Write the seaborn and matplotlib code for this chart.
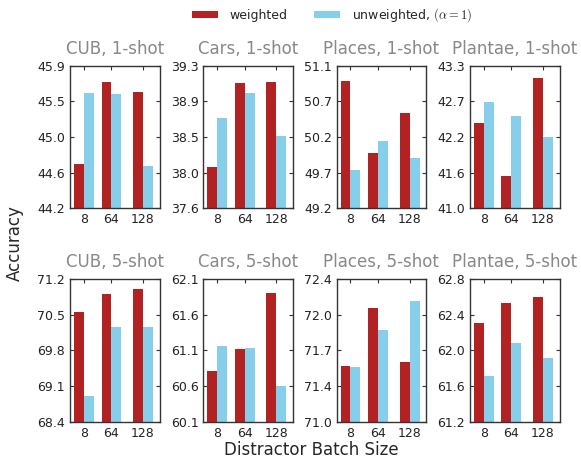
import numpy as np
import pandas as pd
import seaborn as sns
from matplotlib import pyplot
from matplotlib.patches import Patch

sns.set_style("ticks")
pyplot.rcParams['font.family'] = ['DejaVu Sans']
pyplot.rcParams['mathtext.fontset'] = 'cm'
pyplot.rcParams.update({
    'xtick.direction': 'in', 'ytick.direction': 'in',
    'xtick.top': True, 'ytick.right': True,
    'xtick.major.size': 3, 'ytick.major.size': 3,
    'axes.edgecolor': '#333333', 'axes.linewidth': 1.0,
    'xtick.color': '#333333', 'ytick.color': '#333333',
    'xtick.labelcolor': '#222222', 'ytick.labelcolor': '#222222',
})

datasets = ['CUB', 'Cars', 'Places', 'Plantae']
shots = [1, 5]
batch_sizes = ['8', '64', '128']
methods = ['weighted', 'unweighted']

# accuracy, order: CUB, Cars, Places, Plantae
weighted_1shot = [[44.73, 45.70, 45.59], [38.09, 39.09, 39.10],
                  [50.90, 49.93, 50.47], [42.37, 41.52, 43.10]]
unweighted_1shot = [[45.57, 45.56, 44.70], [38.68, 38.97, 38.46],
                    [49.71, 50.10, 49.87], [42.71, 42.49, 42.15]]
weighted_5shot = [[70.56, 70.91, 71.00], [60.81, 61.12, 61.91],
                  [71.55, 72.12, 71.59], [62.31, 62.53, 62.60]]
unweighted_5shot = [[68.91, 70.27, 70.27], [61.16, 61.14, 60.60],
                    [71.54, 71.90, 72.19], [61.71, 62.08, 61.92]]

# y range and tick labels of each panel
y_range_1shot = [(44.2, 45.9), (37.6, 39.3), (49.2, 51.1), (41.0, 43.3)]
y_range_5shot = [(68.4, 71.2), (60.1, 62.1), (71.0, 72.4), (61.2, 62.8)]
yticklabels_1shot = [['44.2', '44.6', '45.0', '45.5', '45.9'],
                     ['37.6', '38.0', '38.5', '38.9', '39.3'],
                     ['49.2', '49.7', '50.2', '50.7', '51.1'],
                     ['41.0', '41.6', '42.2', '42.7', '43.3']]
yticklabels_5shot = [['68.4', '69.1', '69.8', '70.5', '71.2'],
                     ['60.1', '60.6', '61.1', '61.6', '62.1'],
                     ['71.0', '71.4', '71.7', '72.0', '72.4'],
                     ['61.2', '61.6', '62.0', '62.4', '62.8']]

rows = []
for shot, w_vals, u_vals in [(1, weighted_1shot, unweighted_1shot), (5, weighted_5shot, unweighted_5shot)]:
    for d, ds in enumerate(datasets):
        for b, bs in enumerate(batch_sizes):
            rows.append([ds, shot, bs, 'weighted', w_vals[d][b]])
            rows.append([ds, shot, bs, 'unweighted', u_vals[d][b]])
df = pd.DataFrame(rows, columns=['dataset', 'shot', 'batch', 'method', 'acc'])

# slot of each batch size on the x axis (the gaps are not even in the original)
x_slot = {'8': 0.0, '64': 1.0, '128': 2.14}
df['slot'] = df['batch'].map(x_slot)

palette = {'weighted': '#B22222', 'unweighted': '#87CEEB'}

fig, axes = pyplot.subplots(2, 4, figsize=(5.81, 4.58), dpi=100)
pyplot.subplots_adjust(left=0.1205, right=0.963, top=0.8566, bottom=0.0793,
                       wspace=0.489, hspace=0.498)

for r, shot in enumerate(shots):
    y_ranges = y_range_1shot if shot == 1 else y_range_5shot
    ylabels = yticklabels_1shot if shot == 1 else yticklabels_5shot
    for c, ds in enumerate(datasets):
        ax = axes[r, c]
        sub = df.loc[(df['dataset'] == ds) & (df['shot'] == shot), :]
        sns.barplot(data=sub, x='slot', y='acc', hue='method', hue_order=methods,
                    palette=palette, native_scale=True, width=0.72, saturation=1,
                    errorbar=None, legend=False, edgecolor='none', linewidth=0,
                    ax=ax)
        lo, hi = y_ranges[c]
        ax.set_ylim(lo, hi)
        ax.set_yticks(np.linspace(lo, hi, 5))
        ax.set_yticklabels(ylabels[c], fontsize=9)
        ax.set_xlim(-0.5, 2.74)
        ax.set_xticks([x_slot[b] for b in batch_sizes])
        ax.set_xticklabels(batch_sizes, fontsize=9)
        ax.set(xlabel='', ylabel='')
        ax.set_title(f'{ds}, {shot}-shot', color='#888888', fontsize=12, pad=8.5)

handles = [Patch(facecolor=palette[m], edgecolor='none') for m in methods]
fig.legend(handles, ['weighted', 'unweighted, $(\\alpha=1)$'], loc='center',
           bbox_to_anchor=(332 / 581, 1 - 15.5 / 458), ncol=2, frameon=False,
           fontsize=9, handlelength=2.1, handleheight=0.5, handletextpad=0.95,
           columnspacing=2.1)

fig.text(15 / 581, 1 - 243 / 458, 'Accuracy', rotation=90, ha='center', va='center', fontsize=12)
fig.text(311 / 581, 1 - 455 / 458, 'Distractor Batch Size', ha='center', va='baseline', fontsize=12)

pyplot.savefig('out.png', dpi=100)
